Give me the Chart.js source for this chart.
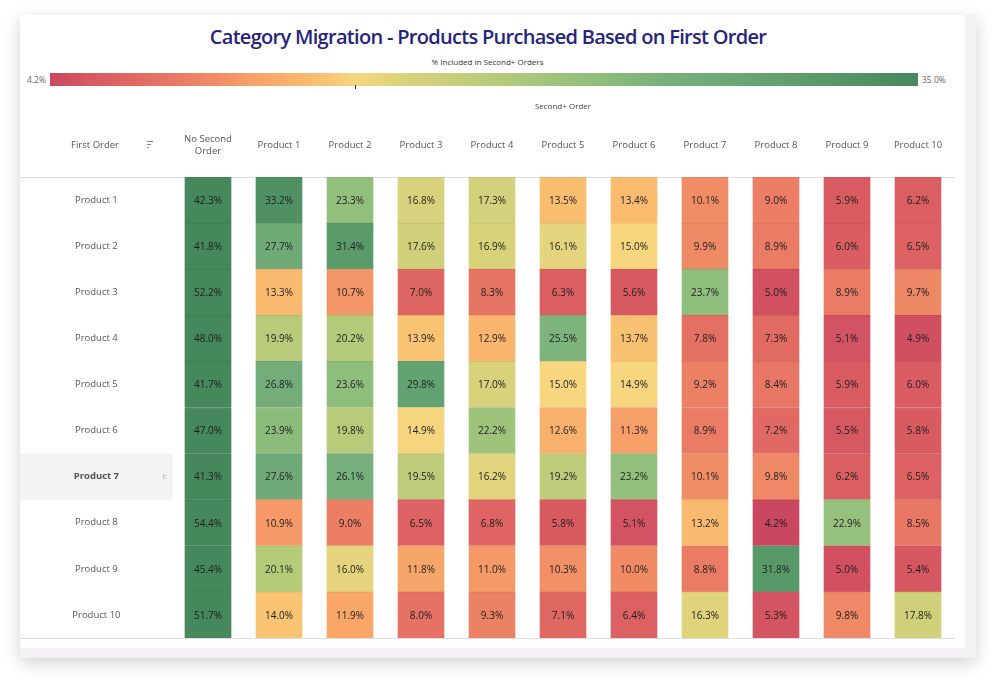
<!DOCTYPE html>
<html>
<head>
<meta charset="utf-8">
<script src="https://cdn.jsdelivr.net/npm/chart.js@4.4.1/dist/chart.umd.min.js"></script>
<style>
  html, body { margin: 0; padding: 0; background: #fff; }
  body { width: 1004px; height: 690px; position: relative; overflow: hidden; font-family: "Open Sans", "Noto Sans", sans-serif; }
  .card { position: absolute; left: 20px; top: 15px; width: 956px; height: 643px; background: #fff;
          box-shadow: 0 5px 16px rgba(0,0,0,0.18); }
  .strip-r { position: absolute; left: 945px; top: 0; width: 11px; height: 643px; background: #f3f1f3; }
  .strip-b { position: absolute; left: 0; top: 633px; width: 956px; height: 10px; background: #f3f1f3; }
  h1 { position: absolute; left: 0; width: 936px; top: 8px; margin: 0; text-align: center;
       font-size: 20px; font-weight: 600; color: #26247c; letter-spacing: -0.7px; }
  .leg-title { position: absolute; left: 0; width: 935px; top: 41px; text-align: center; font-size: 8px; color: #333; }
  .leg-bar { position: absolute; left: 30px; top: 58px; width: 868px; height: 13px; }
  .leg-tick { position: absolute; left: 335px; top: 70px; width: 1px; height: 4px; background: #333; }
  .leg-min { position: absolute; right: 930px; top: 58px; font-size: 8.5px; color: #666; line-height: 13px; }
  .leg-max { position: absolute; left: 902px; top: 58px; font-size: 8.5px; color: #666; line-height: 13px; }
  #wrap { position: absolute; left: 0; top: 75px; width: 945px; height: 555px; }
</style>
</head>
<body>
<div class="card">
  <div class="strip-r"></div>
  <div class="strip-b"></div>
  <h1>Category Migration - Products Purchased Based on First Order</h1>
  <div class="leg-title">% Included in Second+ Orders</div>
  <div class="leg-min" id="legMin"></div>
  <div class="leg-bar" id="legBar"></div>
  <div class="leg-tick"></div>
  <div class="leg-max" id="legMax"></div>
  <div id="wrap"><canvas id="chart" width="945" height="555"></canvas></div>
</div>
<script>
// colonnes (commande suivante) et lignes (première commande)
const secondOrder = ['No Second Order', 'Product 1', 'Product 2', 'Product 3', 'Product 4', 'Product 5',
                     'Product 6', 'Product 7', 'Product 8', 'Product 9', 'Product 10'];
const firstOrder = ['Product 1', 'Product 2', 'Product 3', 'Product 4', 'Product 5',
                    'Product 6', 'Product 7', 'Product 8', 'Product 9', 'Product 10'];

// % par ligne, dans l'ordre des colonnes
const rowProduct1  = [42.3, 33.2, 23.3, 16.8, 17.3, 13.5, 13.4, 10.1, 9.0, 5.9, 6.2];
const rowProduct2  = [41.8, 27.7, 31.4, 17.6, 16.9, 16.1, 15.0, 9.9, 8.9, 6.0, 6.5];
const rowProduct3  = [52.2, 13.3, 10.7, 7.0, 8.3, 6.3, 5.6, 23.7, 5.0, 8.9, 9.7];
const rowProduct4  = [48.0, 19.9, 20.2, 13.9, 12.9, 25.5, 13.7, 7.8, 7.3, 5.1, 4.9];
const rowProduct5  = [41.7, 26.8, 23.6, 29.8, 17.0, 15.0, 14.9, 9.2, 8.4, 5.9, 6.0];
const rowProduct6  = [47.0, 23.9, 19.8, 14.9, 22.2, 12.6, 11.3, 8.9, 7.2, 5.5, 5.8];
const rowProduct7  = [41.3, 27.6, 26.1, 19.5, 16.2, 19.2, 23.2, 10.1, 9.8, 6.2, 6.5];
const rowProduct8  = [54.4, 10.9, 9.0, 6.5, 6.8, 5.8, 5.1, 13.2, 4.2, 22.9, 8.5];
const rowProduct9  = [45.4, 20.1, 16.0, 11.8, 11.0, 10.3, 10.0, 8.8, 31.8, 5.0, 5.4];
const rowProduct10 = [51.7, 14.0, 11.9, 8.0, 9.3, 7.1, 6.4, 16.3, 5.3, 9.8, 17.8];
const rows = [rowProduct1, rowProduct2, rowProduct3, rowProduct4, rowProduct5,
              rowProduct6, rowProduct7, rowProduct8, rowProduct9, rowProduct10];

// bornes de la légende
const scaleMin = 4.2;
const scaleMax = 35.0;
const highlightRow = 6; // Product 7

// palette rouge-or-vert
const colorStops = [
  [4.2, '#c9475f'], [5.5, '#d65862'], [7.0, '#df6763'], [8.5, '#e87764'], [10.0, '#f08b66'],
  [11.5, '#f7a268'], [13.0, '#f9b66d'], [14.0, '#f8c473'], [15.0, '#f7d67f'], [16.5, '#dcd37c'],
  [18.0, '#cccf7a'], [20.0, '#b6cb7a'], [23.0, '#95c17c'], [26.0, '#78b07d'], [30.0, '#62a270'],
  [35.0, '#44885c']
];

function hex(c) { return [1, 3, 5].map(i => parseInt(c.substr(i, 2), 16)); }
function rgbFor(v) {
  v = Math.max(scaleMin, Math.min(scaleMax, v));
  for (let i = 1; i < colorStops.length; i++) {
    const [v1, c1] = colorStops[i];
    const [v0, c0] = colorStops[i - 1];
    if (v <= v1) {
      const t = (v - v0) / (v1 - v0);
      const a = hex(c0), b = hex(c1);
      return a.map((x, k) => Math.round(x + (b[k] - x) * t));
    }
  }
  return hex(colorStops[colorStops.length - 1][1]);
}
function colorFor(v, k = 1) {
  return 'rgb(' + rgbFor(v).map(x => Math.round(x * k)).join(',') + ')';
}

// légende en dégradé
document.getElementById('legBar').style.background = 'linear-gradient(to right, ' +
  colorStops.map(s => s[1] + ' ' + ((s[0] - scaleMin) / (scaleMax - scaleMin) * 100).toFixed(1) + '%').join(', ') + ')';
document.getElementById('legMin').textContent = scaleMin.toFixed(1) + '%';
document.getElementById('legMax').textContent = scaleMax.toFixed(1) + '%';

// une série par colonne, barres flottantes autour de l'index de colonne
const datasets = secondOrder.map((name, j) => ({
  label: name,
  data: rows.map(() => [j - 0.33, j + 0.33]),
  pct: rows.map(r => r[j]),
  backgroundColor: rows.map(r => colorFor(r[j])),
  borderColor: rows.map(r => colorFor(r[j], 0.93)),
  borderWidth: { top: 1, bottom: 0, left: 0, right: 0 },
  borderSkipped: false,
  grouped: false,
  barPercentage: 1,
  categoryPercentage: 1
}));

const FONT = '"Open Sans", sans-serif';

const tableDecor = {
  id: 'tableDecor',
  beforeDraw(chart) {
    const { ctx, chartArea, scales } = chart;
    const band = (scales.y.getPixelForValue(1) - scales.y.getPixelForValue(0));
    const yc = scales.y.getPixelForValue(highlightRow);
    ctx.save();
    ctx.fillStyle = '#f4f2f4';
    ctx.fillRect(0, yc - band / 2, chartArea.left, band);
    ctx.strokeStyle = '#dddddd';
    ctx.lineWidth = 1;
    ctx.beginPath();
    ctx.moveTo(0, chartArea.top + 0.5);
    ctx.lineTo(chartArea.right + 1.5, chartArea.top + 0.5);
    ctx.moveTo(0, chartArea.bottom + 0.5);
    ctx.lineTo(chartArea.right + 1.5, chartArea.bottom + 0.5);
    ctx.stroke();
    // en-tête des lignes
    ctx.fillStyle = '#555';
    ctx.font = '9.5px ' + FONT;
    ctx.textAlign = 'center';
    ctx.textBaseline = 'middle';
    ctx.fillText('First Order', 75, 55);
    // icône de tri
    ctx.strokeStyle = '#888';
    ctx.beginPath();
    [[0, 6], [3, 4], [6, 2]].forEach(([dy, w]) => {
      ctx.moveTo(127, 51.5 + dy);
      ctx.lineTo(127 + w, 51.5 + dy);
    });
    ctx.stroke();
    ctx.fillStyle = '#999';
    ctx.font = '8px ' + FONT;
    ctx.fillText('I:', 145, yc);
    ctx.restore();
  },
  afterDatasetsDraw(chart) {
    const { ctx } = chart;
    ctx.save();
    ctx.fillStyle = '#1e1e1e';
    ctx.font = '10px ' + FONT;
    ctx.textAlign = 'center';
    ctx.textBaseline = 'middle';
    chart.data.datasets.forEach((ds, i) => {
      chart.getDatasetMeta(i).data.forEach((bar, k) => {
        const p = bar.getCenterPoint();
        ctx.fillText(ds.pct[k].toFixed(1) + '%', p.x, p.y + 1);
      });
    });
    ctx.restore();
  }
};

new Chart(document.getElementById('chart'), {
  type: 'bar',
  data: { labels: firstOrder, datasets: datasets },
  options: {
    indexAxis: 'y',
    responsive: false,
    animation: false,
    layout: { padding: { top: 0, right: 11.5, bottom: 7, left: 0 } },
    plugins: { legend: { display: false }, tooltip: { enabled: false } },
    scales: {
      x: {
        type: 'linear',
        position: 'top',
        min: -0.5,
        max: 10.5,
        afterFit(scale) {
          scale.height = 87;
          scale.paddingLeft = 0;
          scale.paddingRight = 0;
        },
        afterBuildTicks(scale) { scale.ticks = secondOrder.map((_, i) => ({ value: i })); },
        grid: { display: false, drawTicks: false },
        border: { display: false },
        title: { display: true, text: 'Second+ Order', color: '#444', font: { size: 8, family: FONT },
                 padding: { top: 12, bottom: 0 } },
        ticks: {
          autoSkip: false,
          maxRotation: 0,
          crossAlign: 'center',
          padding: 26,
          color: '#555',
          font: { size: 9.5, family: FONT },
          callback(v) {
            const name = secondOrder[v];
            return name.length > 12 ? ['No Second', 'Order'] : name;
          }
        }
      },
      y: {
        type: 'category',
        afterFit(scale) {
          scale.width = 152.5;
          scale.paddingTop = 0;
          scale.paddingBottom = 0;
        },
        grid: { display: false, drawTicks: false },
        border: { display: false },
        ticks: {
          crossAlign: 'center',
          padding: 52,
          color: '#555',
          font: (ctx) => ({ size: 9.5, family: FONT, weight: ctx.index === highlightRow ? 'bold' : 'normal' })
        }
      }
    }
  },
  plugins: [tableDecor]
});
</script>
</body>
</html>
